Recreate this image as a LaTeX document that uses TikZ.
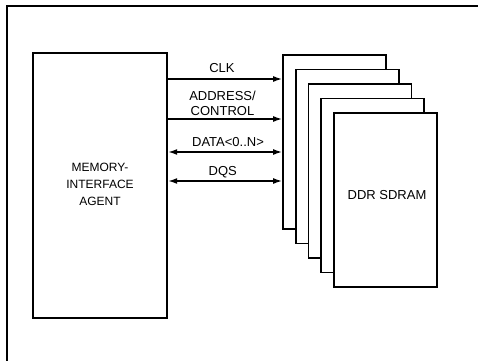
\documentclass[tikz,border=0pt]{standalone}
\usepackage{fontspec}
\setmainfont{Liberation Sans}
\usetikzlibrary{arrows.meta}
\tikzset{
  chip/.style={draw,line width=1.8pt,fill=white,minimum width=103pt,minimum height=174pt,inner sep=0pt},
  sig/.style={line width=1.5pt,-{Latex[length=9pt,width=6pt]}},
  bus/.style={line width=1.5pt,{Latex[length=9pt,width=6pt]}-{Latex[length=9pt,width=6pt]}},
  lbl/.style={font=\fontsize{13}{15}\selectfont,inner sep=0pt,align=center}
}
\begin{document}
\begin{tikzpicture}[x=1pt,y=-1pt]
\useasboundingbox (0,0) rectangle (478,361);
\draw[line width=2pt] (478,6) -- (7,6) -- (7,361);

\node[draw,line width=2.4pt,minimum width=134pt,minimum height=265pt,inner sep=0pt] (agent) at (100,185.5) {};
\node[lbl,font=\fontsize{12}{17}\selectfont] (agentlbl) at (100,184.2) {MEMORY-\\INTERFACE\\AGENT};

\foreach \i in {1,...,5}
  \node[chip] (ram\i) at ({334.5+12.75*(\i-1)},{142+14.5*(\i-1)}) {};
\node[lbl] (ramlbl) at (387,195.3) {DDR SDRAM};

\coordinate (clkA) at (agent.east |- 0,79);
\coordinate (clkB) at (ram1.west |- 0,79);
\coordinate (adrA) at (agent.east |- 0,119);
\coordinate (adrB) at (ram1.west |- 0,119);
\coordinate (datA) at (agent.east |- 0,152);
\coordinate (datB) at (ram1.west |- 0,152);
\coordinate (dqsA) at (agent.east |- 0,181);
\coordinate (dqsB) at (ram1.west |- 0,181);
\draw[sig] (clkA) -- (clkB);
\draw[sig] (adrA) -- (adrB);
\draw[bus] (datA) -- (datB);
\draw[bus] (dqsA) -- (dqsB);

\node[lbl] (clklbl) at (222,68) {CLK};
\node[lbl] (adrlbl) at (222.5,103.3) {ADDRESS/\\CONTROL};
\node[lbl] (datlbl) at (228,142.2) {DATA<0..N>};
\node[lbl] (dqslbl) at (222.7,172.5) {DQS};
\end{tikzpicture}
\end{document}
